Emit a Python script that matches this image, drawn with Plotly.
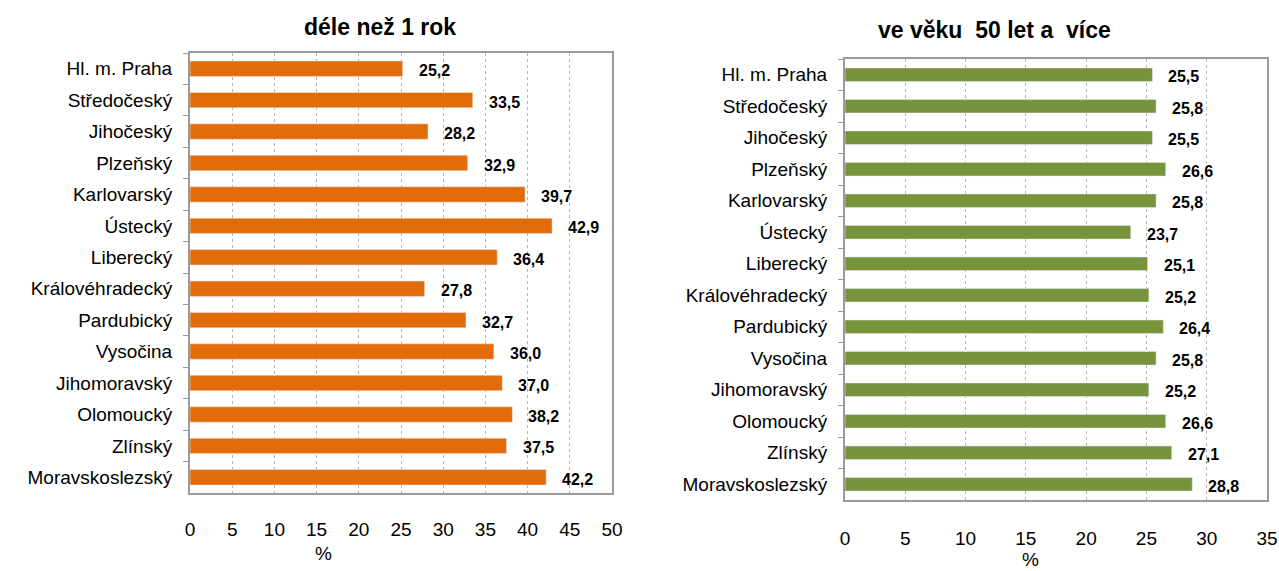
import plotly.graph_objects as go

regions = ["Hl. m. Praha", "Středočeský", "Jihočeský", "Plzeňský", "Karlovarský",
           "Ústecký", "Liberecký", "Královéhradecký", "Pardubický", "Vysočina",
           "Jihomoravský", "Olomoucký", "Zlínský", "Moravskoslezský"]

over_1_year = [25.2, 33.5, 28.2, 32.9, 39.7, 42.9, 36.4, 27.8, 32.7, 36.0, 37.0, 38.2, 37.5, 42.2]
age_50_plus = [25.5, 25.8, 25.5, 26.6, 25.8, 23.7, 25.1, 25.2, 26.4, 25.8, 25.2, 26.6, 27.1, 28.8]

titles = ["déle než 1 rok", "ve věku  50 let a  více"]
x_ranges = [[0, 50], [0, 35]]

ORANGE = "#E36C0A"
GREEN = "#77933C"
FONT = "Liberation Sans, Arial, sans-serif"

W, H = 1279, 571


def px(x):
    return x / W


def py(y):
    return 1 - y / H


def fmt(v):
    return f"{v:.1f}".replace(".", ",")


fig = go.Figure()

fig.add_trace(go.Bar(x=over_1_year, y=regions, orientation="h", marker_color=ORANGE,
                     width=0.49, xaxis="x", yaxis="y", showlegend=False, hoverinfo="x+y"))
fig.add_trace(go.Bar(x=age_50_plus, y=regions, orientation="h", marker_color=GREEN,
                     width=0.43, xaxis="x2", yaxis="y2", showlegend=False, hoverinfo="x+y"))

# value labels just past the bar ends
for vals, xr, yr in [(over_1_year, "x", "y"), (age_50_plus, "x2", "y2")]:
    for name, v in zip(regions, vals):
        fig.add_annotation(x=v, y=name, xref=xr, yref=yr, text=fmt(v), showarrow=False,
                           xanchor="left", xshift=14, yshift=-2,
                           font=dict(family=FONT, size=16, color="black", weight="bold"))

xaxis_common = dict(
    showgrid=True, gridcolor="#b4b4b4", griddash="3px,3px", gridwidth=1,
    showline=True, linecolor="#9a9a9a", linewidth=2, mirror=True,
    zeroline=False, dtick=5, ticks="", automargin=False,
    tickfont=dict(family=FONT, size=19, color="black"), fixedrange=True,
)
yaxis_common = dict(
    type="category", autorange="reversed", showgrid=False,
    showline=True, linecolor="#9a9a9a", linewidth=2, mirror=True,
    ticks="outside", tickson="boundaries", ticklen=5, tickcolor="#9a9a9a",
    ticklabelstandoff=12, tickfont=dict(family=FONT, size=19, color="black"),
    fixedrange=True, automargin=False,
)

fig.update_layout(
    width=W, height=H,
    margin=dict(l=0, r=0, t=0, b=0),
    paper_bgcolor="white", plot_bgcolor="white",
    font=dict(family=FONT, color="black"),
    xaxis=dict(xaxis_common, domain=[px(190), px(612)], range=x_ranges[0], anchor="y",
               ticklabelstandoff=18),
    yaxis=dict(yaxis_common, domain=[py(493), py(53)], anchor="x"),
    xaxis2=dict(xaxis_common, domain=[px(845), px(1267)], range=x_ranges[1], anchor="y2",
                ticklabelstandoff=20),
    yaxis2=dict(yaxis_common, domain=[py(500), py(59)], anchor="x2"),
    annotations=list(fig.layout.annotations) + [
        dict(text=titles[0], x=px(380), y=py(27), xref="paper", yref="paper",
             xanchor="center", yanchor="middle",
             showarrow=False, font=dict(family=FONT, size=23, weight="bold")),
        dict(text=titles[1], x=px(994), y=py(30), xref="paper", yref="paper",
             xanchor="center", yanchor="middle",
             showarrow=False, font=dict(family=FONT, size=23, weight="bold")),
        dict(text="%", x=px(323), y=py(553), xref="paper", yref="paper",
             xanchor="center", yanchor="middle",
             showarrow=False, font=dict(family=FONT, size=19)),
        dict(text="%", x=px(1030), y=py(559), xref="paper", yref="paper",
             xanchor="center", yanchor="middle",
             showarrow=False, font=dict(family=FONT, size=19)),
    ],
)

# drop the default page margin so the figure sits at the window's corner
fig.write_html("out.html", config={"displayModeBar": False},
               post_script="document.body.style.margin='0';")
